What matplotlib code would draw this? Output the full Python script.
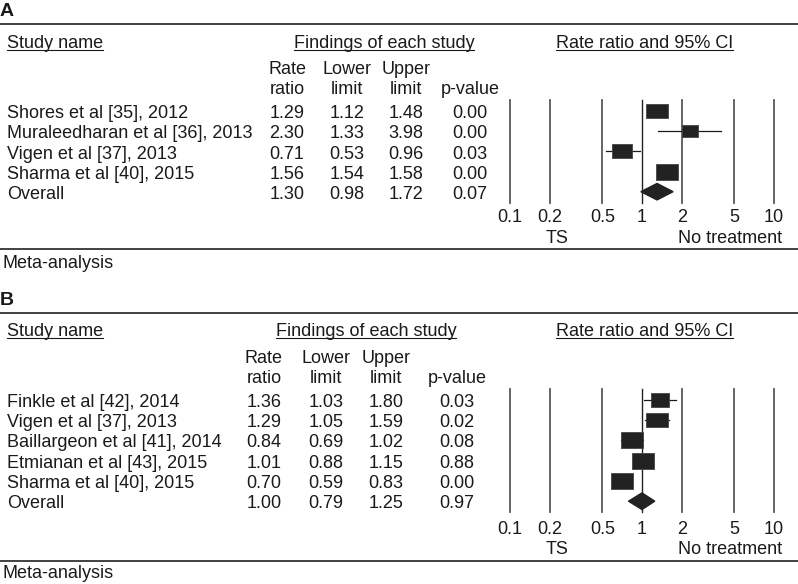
import matplotlib
matplotlib.use("Agg")
import matplotlib.pyplot as plt
from matplotlib.lines import Line2D
from matplotlib.transforms import blended_transform_factory
import numpy as np

plt.rcParams["font.family"] = ["Liberation Sans", "DejaVu Sans"]
plt.rcParams["font.size"] = 13

W, H = 798, 584
ink = "#1a1a1a"

# panel A data
names_a = ["Shores et al [35], 2012", "Muraleedharan et al [36], 2013",
           "Vigen et al [37], 2013", "Sharma et al [40], 2015"]
rr_a = [1.29, 2.30, 0.71, 1.56]
lo_a = [1.12, 1.33, 0.53, 1.54]
hi_a = [1.48, 3.98, 0.96, 1.58]
p_a = [0.00, 0.00, 0.03, 0.00]
weights_a = [27.6, 17.0, 23.8, 31.6]   # relative weight (%)
overall_a = [1.30, 0.98, 1.72, 0.07]

# panel B data
names_b = ["Finkle et al [42], 2014", "Vigen et al [37], 2013",
           "Baillargeon et al [41], 2014", "Etmianan et al [43], 2015",
           "Sharma et al [40], 2015"]
rr_b = [1.36, 1.29, 0.84, 1.01, 0.70]
lo_b = [1.03, 1.05, 0.69, 0.88, 0.59]
hi_b = [1.80, 1.59, 1.02, 1.15, 0.83]
p_b = [0.03, 0.02, 0.08, 0.88, 0.00]
weights_b = [15.6, 19.3, 21.1, 22.0, 22.0]
overall_b = [1.00, 0.79, 1.25, 0.97]

ticks = [0.1, 0.2, 0.5, 1, 2, 5, 10]
tick_labels = ["0.1", "0.2", "0.5", "1", "2", "5", "10"]
col_top = ["Rate", "Lower", "Upper", ""]
col_bot = ["ratio", "limit", "limit", "p-value"]

# layout in pixels (y from top of image)
lay_a = dict(top=24, label=16, head=48.3, sub1=74, sub2=94.3, row0=118.3,
             pitch=20.1, vtop=100, vbot=203.3, tick=222.3, side=243.3,
             bottom=249.3, meta=268, cols=[287, 347, 406, 470], find=384)
lay_b = dict(top=313, label=305, head=336, sub1=363.3, sub2=383.3, row0=406.7,
             pitch=20.3, vtop=389, vbot=511.7, tick=534, side=554,
             bottom=560.7, meta=578.3, cols=[264, 326, 386, 457], find=366)

fig = plt.figure(figsize=(W / 100, H / 100), dpi=100)


def fx(px):
    return px / W


def fy(py):
    return 1 - py / H


def txt(x, y, s, **kw):
    kw.setdefault("va", "baseline")
    kw.setdefault("color", ink)
    return fig.text(fx(x), fy(y), s, **kw)


def hline(y, lw=1.3, color="#333333"):
    fig.add_artist(Line2D([0, 1], [fy(y), fy(y)], transform=fig.transFigure,
                          lw=lw, color=color))


underlined = []


def panel(label, names, rr, lo, hi, p, overall, weights, lay):
    txt(0, lay["label"], label, fontweight="bold", fontsize=14)
    hline(lay["top"])
    hline(lay["bottom"])
    txt(3, lay["meta"], "Meta-analysis")

    underlined.append((txt(7, lay["head"], "Study name"), lay["head"]))
    underlined.append((txt(lay["find"], lay["head"], "Findings of each study",
                           ha="center"), lay["head"]))
    underlined.append((txt(644.4, lay["head"], "Rate ratio and 95% CI",
                           ha="center"), lay["head"]))
    for cx, t1, t2 in zip(lay["cols"], col_top, col_bot):
        txt(cx, lay["sub1"], t1, ha="center")
        txt(cx, lay["sub2"], t2, ha="center")

    rows = list(zip(names, rr, lo, hi, p)) + [("Overall",) + tuple(overall)]
    for i, (nm, r, l, h, pv) in enumerate(rows):
        yb = lay["row0"] + i * lay["pitch"]
        txt(7, yb, nm)
        for cx, v in zip(lay["cols"], [r, l, h, pv]):
            txt(cx, yb, f"{v:.2f}", ha="center")

    # forest plot axes
    c0 = lay["row0"] - 7
    ax = fig.add_axes([fx(510), fy(lay["vbot"]), 264 / W,
                       (lay["vbot"] - lay["vtop"]) / H])
    ax.set_xscale("log")
    ax.set_xlim(0.1, 10)
    ax.set_ylim((lay["vbot"] - c0) / lay["pitch"], (lay["vtop"] - c0) / lay["pitch"])
    ax.axis("off")

    for t in ticks:
        if t == 1:
            ax.axvline(t, color="#222222", lw=1.0, clip_on=False, zorder=1)
        else:
            ax.axvline(t, color="#5a5a5a", lw=1.3, clip_on=False, zorder=1)

    wmax = max(weights)
    rect = [(-1.45, -1), (1.45, -1), (1.45, 1), (-1.45, 1), (-1.45, -1)]
    for i in range(len(rr)):
        ax.plot([lo[i], hi[i]], [i, i], color=ink, lw=0.9, zorder=3,
                clip_on=False)
        hpx = 15.5 * np.sqrt(weights[i] / wmax)
        ax.plot(rr[i], i, ls="none", marker=rect, ms=1.45 * hpx * 0.72,
                mfc="#222222", mec="#444444", mew=0.6, zorder=4, clip_on=False)

    n = len(rr)
    r, l, h = overall[0], overall[1], overall[2]
    ax.fill([l, r, h, r], [n, n - 0.41, n, n + 0.41], color="#222222",
            zorder=4, clip_on=False)

    tr = blended_transform_factory(ax.transData, fig.transFigure)
    for t, s in zip(ticks, tick_labels):
        ax.text(t, fy(lay["tick"]), s, transform=tr, ha="center",
                va="baseline", color=ink)
    txt(557, lay["side"], "TS", ha="center")
    txt(730, lay["side"], "No treatment", ha="center")


panel("A", names_a, rr_a, lo_a, hi_a, p_a, overall_a, weights_a, lay_a)
panel("B", names_b, rr_b, lo_b, hi_b, p_b, overall_b, weights_b, lay_b)

# underline the column group headers
fig.canvas.draw()
for t, yb in underlined:
    bb = t.get_window_extent()
    fig.add_artist(Line2D([bb.x0 / W, bb.x1 / W], [fy(yb + 2), fy(yb + 2)],
                          transform=fig.transFigure, lw=0.8, color=ink))

fig.savefig("out.png", dpi=100)
